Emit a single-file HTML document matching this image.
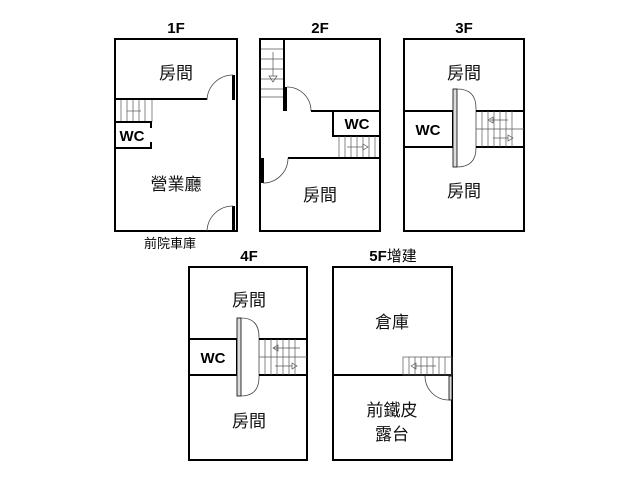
<!DOCTYPE html>
<html><head><meta charset="utf-8"><style>
body{margin:0;background:#fff;}
svg{display:block;font-family:"Liberation Sans","Noto Sans CJK TC",sans-serif;}
.w{fill:none;stroke:#000;stroke-width:2}
.t{fill:none;stroke:#555;stroke-width:0.7}
.a{fill:none;stroke:#444;stroke-width:0.8}
.lbl{font-size:17px;fill:#111;text-anchor:middle}
.h{font-size:15px;font-weight:bold;text-anchor:middle}
.wc{font-size:15px;font-weight:bold;text-anchor:middle}
</style></head><body>
<svg width="640" height="480" viewBox="0 0 640 480">
<!-- 1F -->
<text class="h" x="176" y="33">1F</text>
<rect class="w" x="115" y="39" width="122" height="192"/>
<line class="w" x1="115" y1="99" x2="207" y2="99"/>
<rect x="232" y="75" width="3" height="25" fill="#000"/>
<path class="a" d="M233,75 A26,26 0 0 0 207,100"/>
<g class="t"><line x1="121" y1="100" x2="121" y2="122"/><line x1="127" y1="100" x2="127" y2="122"/><line x1="133" y1="100" x2="133" y2="122"/><line x1="139" y1="100" x2="139" y2="122"/><line x1="145" y1="100" x2="145" y2="122"/><line x1="152" y1="100" x2="152" y2="122"/><line x1="127" y1="111" x2="141" y2="111"/></g>
<line class="w" x1="115" y1="122" x2="152" y2="122"/>
<line class="w" x1="151" y1="122" x2="151" y2="128"/>
<line class="w" x1="115" y1="148" x2="152" y2="148"/>
<line class="w" x1="151" y1="142" x2="151" y2="148"/>
<text class="wc" x="132" y="141">WC</text>
<text class="lbl" x="176" y="79">房間</text>
<text class="lbl" x="176" y="190">營業廳</text>
<rect x="232" y="206" width="3" height="25" fill="#000"/>
<path class="a" d="M233,206 A26,26 0 0 0 207,231"/>
<text x="170" y="248" style="font-size:13px;text-anchor:middle">前院車庫</text>
<!-- 2F -->
<text class="h" x="320" y="33">2F</text>
<rect class="w" x="260" y="39" width="120" height="192"/>
<g class="t"><line x1="261" y1="49" x2="284" y2="49"/><line x1="261" y1="59" x2="284" y2="59"/><line x1="261" y1="69" x2="284" y2="69"/><line x1="261" y1="79" x2="284" y2="79"/><line x1="261" y1="89" x2="284" y2="89"/><line x1="261" y1="97" x2="284" y2="97"/><line x1="273" y1="52" x2="273" y2="76"/><path d="M269,76 L277,76 L273,82 Z"/></g>
<line class="w" x1="284" y1="39" x2="284" y2="97"/>
<rect x="283" y="87" width="4" height="24" fill="#000"/>
<path class="a" d="M287,87 A24,24 0 0 1 311,111"/>
<line class="w" x1="311" y1="111" x2="380" y2="111"/>
<rect class="w" x="333" y="111" width="47" height="25"/>
<text class="wc" x="357" y="129">WC</text>
<g class="t"><line x1="339" y1="136" x2="339" y2="158"/><line x1="345" y1="136" x2="345" y2="158"/><line x1="351" y1="136" x2="351" y2="158"/><line x1="357" y1="136" x2="357" y2="158"/><line x1="363" y1="136" x2="363" y2="158"/><line x1="369" y1="136" x2="369" y2="158"/><line x1="375" y1="136" x2="375" y2="158"/><line x1="347" y1="147" x2="363" y2="147"/><path d="M363,144 L368,147 L363,150 Z"/></g>
<line class="w" x1="288" y1="158" x2="380" y2="158"/>
<rect x="261" y="158" width="3" height="25" fill="#000"/>
<path class="a" d="M288,158 A25,25 0 0 1 263,183"/>
<text class="lbl" x="320" y="201">房間</text>
<!-- 3F -->
<text class="h" x="464" y="33">3F</text>
<rect class="w" x="404" y="39" width="120" height="192"/>
<rect class="w" x="404" y="111" width="49" height="36"/>
<text class="wc" x="428" y="135">WC</text>
<rect x="453" y="89" width="4" height="78" fill="#ddd" stroke="#000" stroke-width="0.8"/>
<path class="a" d="M457,89 Q476,89 476,108 L476,148 Q476,167 457,167"/>
<line class="w" x1="476" y1="111" x2="524" y2="111"/>
<line class="w" x1="476" y1="147" x2="524" y2="147"/>
<g class="t"><line x1="482" y1="111" x2="482" y2="147"/><line x1="488" y1="111" x2="488" y2="147"/><line x1="494" y1="111" x2="494" y2="147"/><line x1="500" y1="111" x2="500" y2="147"/><line x1="506" y1="111" x2="506" y2="147"/><line x1="512" y1="111" x2="512" y2="147"/><line x1="476" y1="129" x2="524" y2="129"/><line x1="490" y1="120" x2="508" y2="120"/><path d="M493,117 L488,120 L493,123 Z"/><line x1="493" y1="138" x2="508" y2="138"/><path d="M508,135 L513,138 L508,141 Z"/></g>
<text class="lbl" x="464" y="79">房間</text>
<text class="lbl" x="464" y="197">房間</text>
<!-- 4F -->
<text class="h" x="249" y="261">4F</text>
<rect class="w" x="189" y="267" width="118" height="193"/>
<rect class="w" x="189" y="339" width="48" height="36"/>
<text class="wc" x="213" y="363">WC</text>
<rect x="237" y="318" width="4" height="78" fill="#ddd" stroke="#000" stroke-width="0.8"/>
<path class="a" d="M241,318 Q259,318 259,337 L259,377 Q259,396 241,396"/>
<line class="w" x1="259" y1="339" x2="307" y2="339"/>
<line class="w" x1="259" y1="375" x2="307" y2="375"/>
<g class="t"><line x1="265" y1="339" x2="265" y2="375"/><line x1="271" y1="339" x2="271" y2="375"/><line x1="277" y1="339" x2="277" y2="375"/><line x1="283" y1="339" x2="283" y2="375"/><line x1="289" y1="339" x2="289" y2="375"/><line x1="295" y1="339" x2="295" y2="375"/><line x1="259" y1="357" x2="307" y2="357"/><line x1="273" y1="348" x2="300" y2="348"/><path d="M278,345 L273,348 L278,351 Z"/><line x1="275" y1="366" x2="292" y2="366"/><path d="M292,363 L297,366 L292,369 Z"/></g>
<text class="lbl" x="249" y="306">房間</text>
<text class="lbl" x="249" y="427">房間</text>
<!-- 5F -->
<text x="393" y="261" style="font-size:15px;text-anchor:middle"><tspan font-weight="bold">5F</tspan>增建</text>
<rect class="w" x="333" y="267" width="119" height="193"/>
<line class="w" x1="333" y1="375" x2="452" y2="375"/>
<rect class="t" x="403" y="357" width="49" height="18"/>
<g class="t"><line x1="409" y1="357" x2="409" y2="375"/><line x1="415" y1="357" x2="415" y2="375"/><line x1="421" y1="357" x2="421" y2="375"/><line x1="427" y1="357" x2="427" y2="375"/><line x1="433" y1="357" x2="433" y2="375"/><line x1="439" y1="357" x2="439" y2="375"/><line x1="445" y1="357" x2="445" y2="375"/><line x1="416" y1="366" x2="436" y2="366"/><path d="M416,363 L411,366 L416,369 Z"/></g>
<rect x="449" y="376" width="3" height="24" fill="#ddd" stroke="#000" stroke-width="0.8"/>
<path class="a" d="M449,400 A24,24 0 0 1 425,376"/>
<text class="lbl" x="392" y="328">倉庫</text>
<text class="lbl" x="392" y="416">前鐵皮</text>
<text class="lbl" x="392" y="440">露台</text>
</svg>
</body></html>
